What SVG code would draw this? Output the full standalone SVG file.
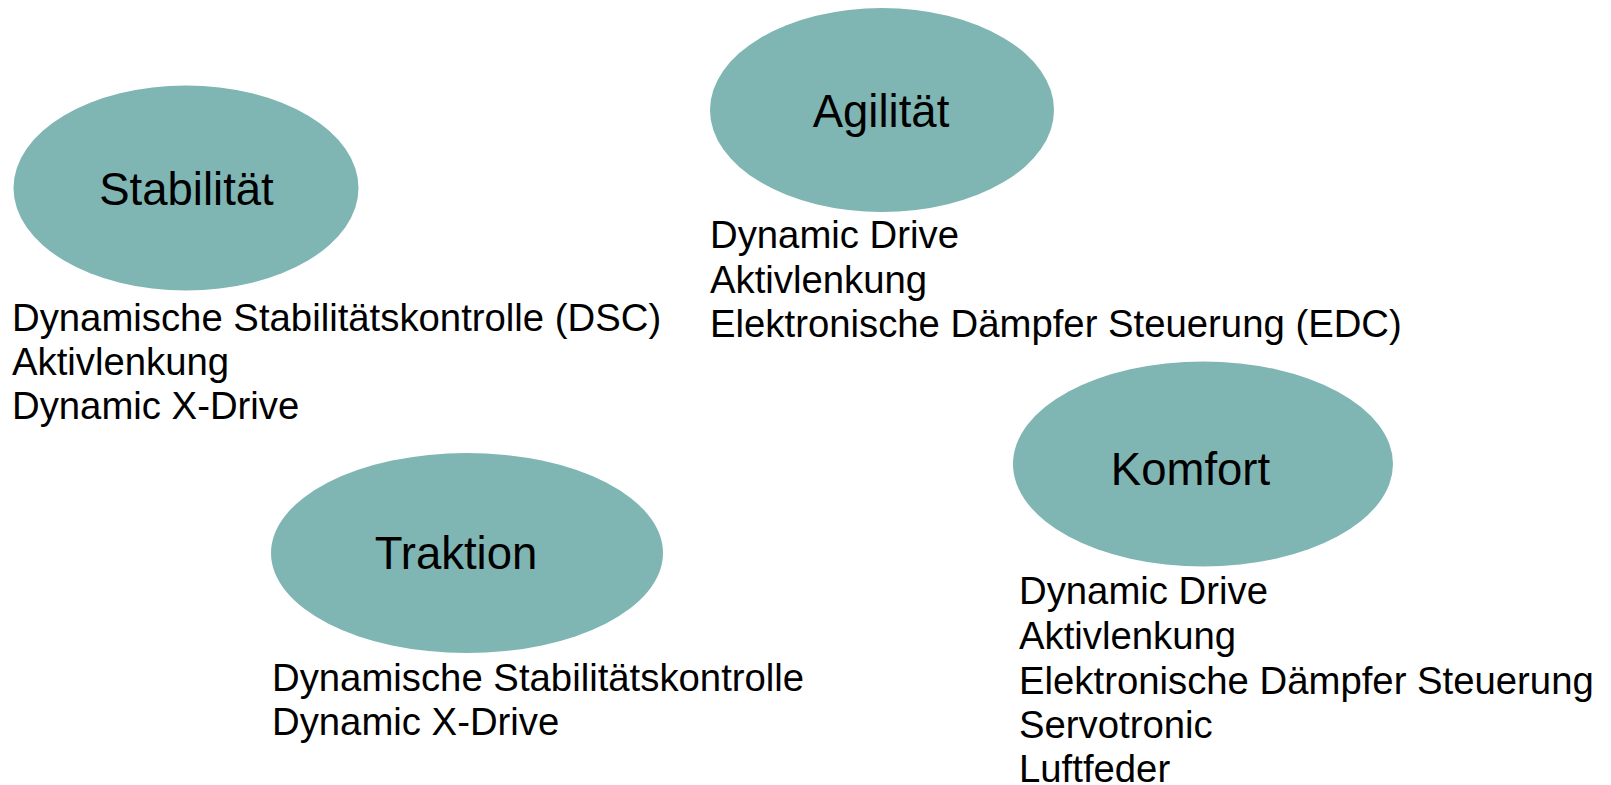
<svg xmlns="http://www.w3.org/2000/svg" width="1611" height="785" viewBox="0 0 1611 785">
<style>
.bub{fill:#7fb5b3;stroke:none}
.lbl{font-family:"Liberation Sans",Arial,sans-serif;font-size:45.5px;fill:#000;text-anchor:middle}
.lst{font-family:"Liberation Sans",Arial,sans-serif;font-size:38.3px;fill:#000}
</style>
<rect width="1611" height="785" fill="#fff"/>
<g id="connectors"></g>
<g id="stabilitaet">
<ellipse class="bub" cx="186" cy="188" rx="172.5" ry="102.5"/>
<text class="lbl" x="186.5" y="204.5">Stabilität</text>
<text class="lst" x="12" y="331">Dynamische Stabilitätskontrolle (DSC)</text>
<text class="lst" x="12" y="375">Aktivlenkung</text>
<text class="lst" x="12" y="419">Dynamic X-Drive</text>
</g>
<g id="agilitaet">
<ellipse class="bub" cx="882" cy="110" rx="172" ry="102"/>
<text class="lbl" x="881" y="126.7">Agilität</text>
<text class="lst" x="710" y="248.3">Dynamic Drive</text>
<text class="lst" x="710" y="293">Aktivlenkung</text>
<text class="lst" x="710" y="336.7">Elektronische Dämpfer Steuerung (EDC)</text>
</g>
<g id="traktion">
<ellipse class="bub" cx="467" cy="553" rx="196" ry="100"/>
<text class="lbl" x="456" y="569.3">Traktion</text>
<text class="lst" x="272" y="690.5">Dynamische Stabilitätskontrolle</text>
<text class="lst" x="272" y="735">Dynamic X-Drive</text>
</g>
<g id="komfort">
<ellipse class="bub" cx="1203" cy="464" rx="190" ry="102.5"/>
<text class="lbl" x="1190.5" y="485">Komfort</text>
<text class="lst" x="1019" y="604">Dynamic Drive</text>
<text class="lst" x="1019" y="649">Aktivlenkung</text>
<text class="lst" x="1019" y="693.5">Elektronische Dämpfer Steuerung</text>
<text class="lst" x="1019" y="738">Servotronic</text>
<text class="lst" x="1019" y="782">Luftfeder</text>
</g>
</svg>
